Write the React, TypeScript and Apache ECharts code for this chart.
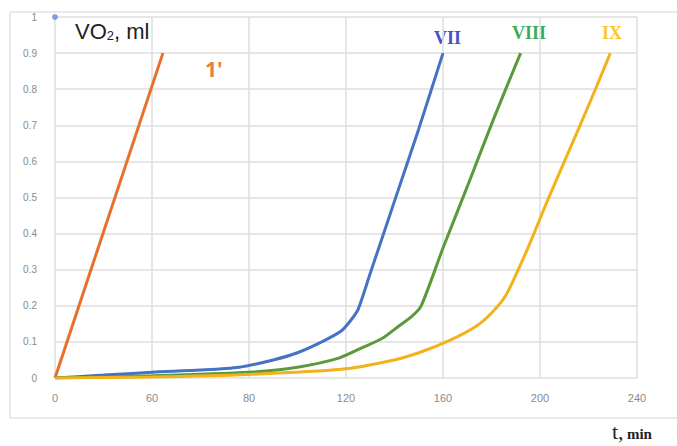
import React, { useEffect, useRef } from "react";
import * as echarts from "echarts";

const xTickLabels = ["0", "60", "80", "120", "160", "200", "240"];

const seriesOrange1: [number, number][] = [
  [0, 0],
  [44.5, 0.9],
];
const seriesVII: [number, number][] = [
  [0, 0], [20, 0.008], [40, 0.016], [60, 0.022], [76, 0.03], [90, 0.05],
  [100, 0.07], [110, 0.1], [118, 0.13], [122, 0.16], [125, 0.19], [130, 0.29],
  [140, 0.49], [150, 0.69], [160, 0.9],
];
const seriesVIII: [number, number][] = [
  [0, 0], [40, 0.006], [80, 0.016], [100, 0.03], [117, 0.055], [127, 0.085],
  [135, 0.11], [141, 0.14], [147, 0.17], [151, 0.2], [160, 0.36], [170, 0.53],
  [181, 0.72], [192, 0.9],
];
const seriesIX: [number, number][] = [
  [0, 0], [40, 0.003], [80, 0.01], [118, 0.024], [138, 0.047], [150, 0.07],
  [163, 0.105], [174, 0.145], [180, 0.18], [186, 0.23], [195, 0.36], [203, 0.49],
  [212, 0.63], [221, 0.77], [229, 0.9],
];
const markerPoint: [number, number][] = [[0, 1]];

export default function App() {
  const ref = useRef<HTMLDivElement>(null);
  useEffect(() => {
    if (!ref.current) return;
    const chart = echarts.init(ref.current, null, { renderer: "svg" });
    const line = (name: string, data: [number, number][], color: string, smooth: number) => ({
      name,
      type: "line",
      data,
      smooth,
      showSymbol: false,
      symbol: "none",
      lineStyle: { color, width: 3 },
      z: 3,
    });
    chart.setOption({
      animation: false,
      backgroundColor: "#ffffff",
      grid: { left: 55, top: 17, width: 582, height: 361, containLabel: false },
      xAxis: {
        type: "value",
        min: 0,
        max: 240,
        interval: 40,
        axisLine: { show: false },
        axisTick: { show: false },
        axisLabel: {
          margin: 14,
          fontSize: 11,
          color: "#8a8a8a",
          fontFamily: "Liberation Sans, Arial, sans-serif",
          formatter: (v: number) => xTickLabels[Math.round(v / 40)] ?? String(v),
        },
        splitLine: { show: true, lineStyle: { color: "#dedede", width: 1.5 } },
      },
      yAxis: {
        type: "value",
        min: 0,
        max: 1,
        interval: 0.1,
        axisLine: { show: false },
        axisTick: { show: false },
        axisLabel: {
          margin: 18,
          fontSize: 10,
          color: "#8a8a8a",
          fontFamily: "Liberation Sans, Arial, sans-serif",
          formatter: (v: number) => (v === 0 ? "0" : v >= 0.999 ? "1" : v.toFixed(1)),
        },
        splitLine: { show: true, lineStyle: { color: "#dedede", width: 1.5 } },
      },
      series: [
        line("1'", seriesOrange1, "#E8702A", 0),
        line("VII", seriesVII, "#4472C4", 0.25),
        line("VIII", seriesVIII, "#5A9A3A", 0.25),
        line("IX", seriesIX, "#F2B21A", 0.25),
        {
          name: "marker",
          type: "scatter",
          data: markerPoint,
          symbolSize: 6,
          itemStyle: { color: "#6f86d6" },
          z: 4,
        },
      ],
      graphic: [
        {
          type: "rect",
          silent: true,
          z: -1,
          shape: { x: 10, y: 12, width: 690, height: 406 },
          style: { fill: "none", stroke: "#e4e4e4", lineWidth: 1.5 },
        },
        {
          type: "text",
          left: 75,
          top: 20,
          style: {
            text: "{a|VO}{s|2}{a|, ml}",
            rich: {
              a: { fontSize: 22, fontFamily: "Liberation Sans, DejaVu Sans, sans-serif", fill: "#222222" },
              s: { fontSize: 13, fontFamily: "Liberation Sans, DejaVu Sans, sans-serif", fill: "#222222", padding: [8, 0, 0, 0] },
            },
          },
        },
        {
          type: "text",
          left: 205,
          top: 58,
          style: {
            text: "1'",
            fontSize: 21,
            fontWeight: "bold",
            fontFamily: "Open Sans, Liberation Sans, sans-serif",
            fill: "#E8803A",
          },
        },
        {
          type: "text",
          left: 434,
          top: 29,
          style: {
            text: "VII",
            fontSize: 18,
            fontWeight: "bold",
            fontFamily: "Liberation Serif, DejaVu Serif, serif",
            fill: "#4B50C8",
          },
        },
        {
          type: "text",
          left: 512,
          top: 24,
          style: {
            text: "VIII",
            fontSize: 18,
            fontWeight: "bold",
            fontFamily: "Liberation Serif, DejaVu Serif, serif",
            fill: "#3DAA5A",
          },
        },
        {
          type: "text",
          left: 602,
          top: 24,
          style: {
            text: "IX",
            fontSize: 18,
            fontWeight: "bold",
            fontFamily: "Liberation Serif, DejaVu Serif, serif",
            fill: "#FFC52A",
          },
        },
        {
          type: "text",
          left: 612,
          top: 420,
          style: {
            text: "{t|t,} {m|min}",
            rich: {
              t: { fontSize: 22, fontFamily: "Liberation Serif, serif", fill: "#222" },
              m: { fontSize: 15, fontWeight: "bold", fontFamily: "Liberation Serif, serif", fill: "#222", padding: [6, 0, 0, 0] },
            },
          },
        },
      ],
    });
    return () => chart.dispose();
  }, []);
  return (
    <div
      ref={ref}
      style={{ position: "fixed", left: 0, top: 0, width: 677, height: 446, background: "#fff" }}
    />
  );
}
